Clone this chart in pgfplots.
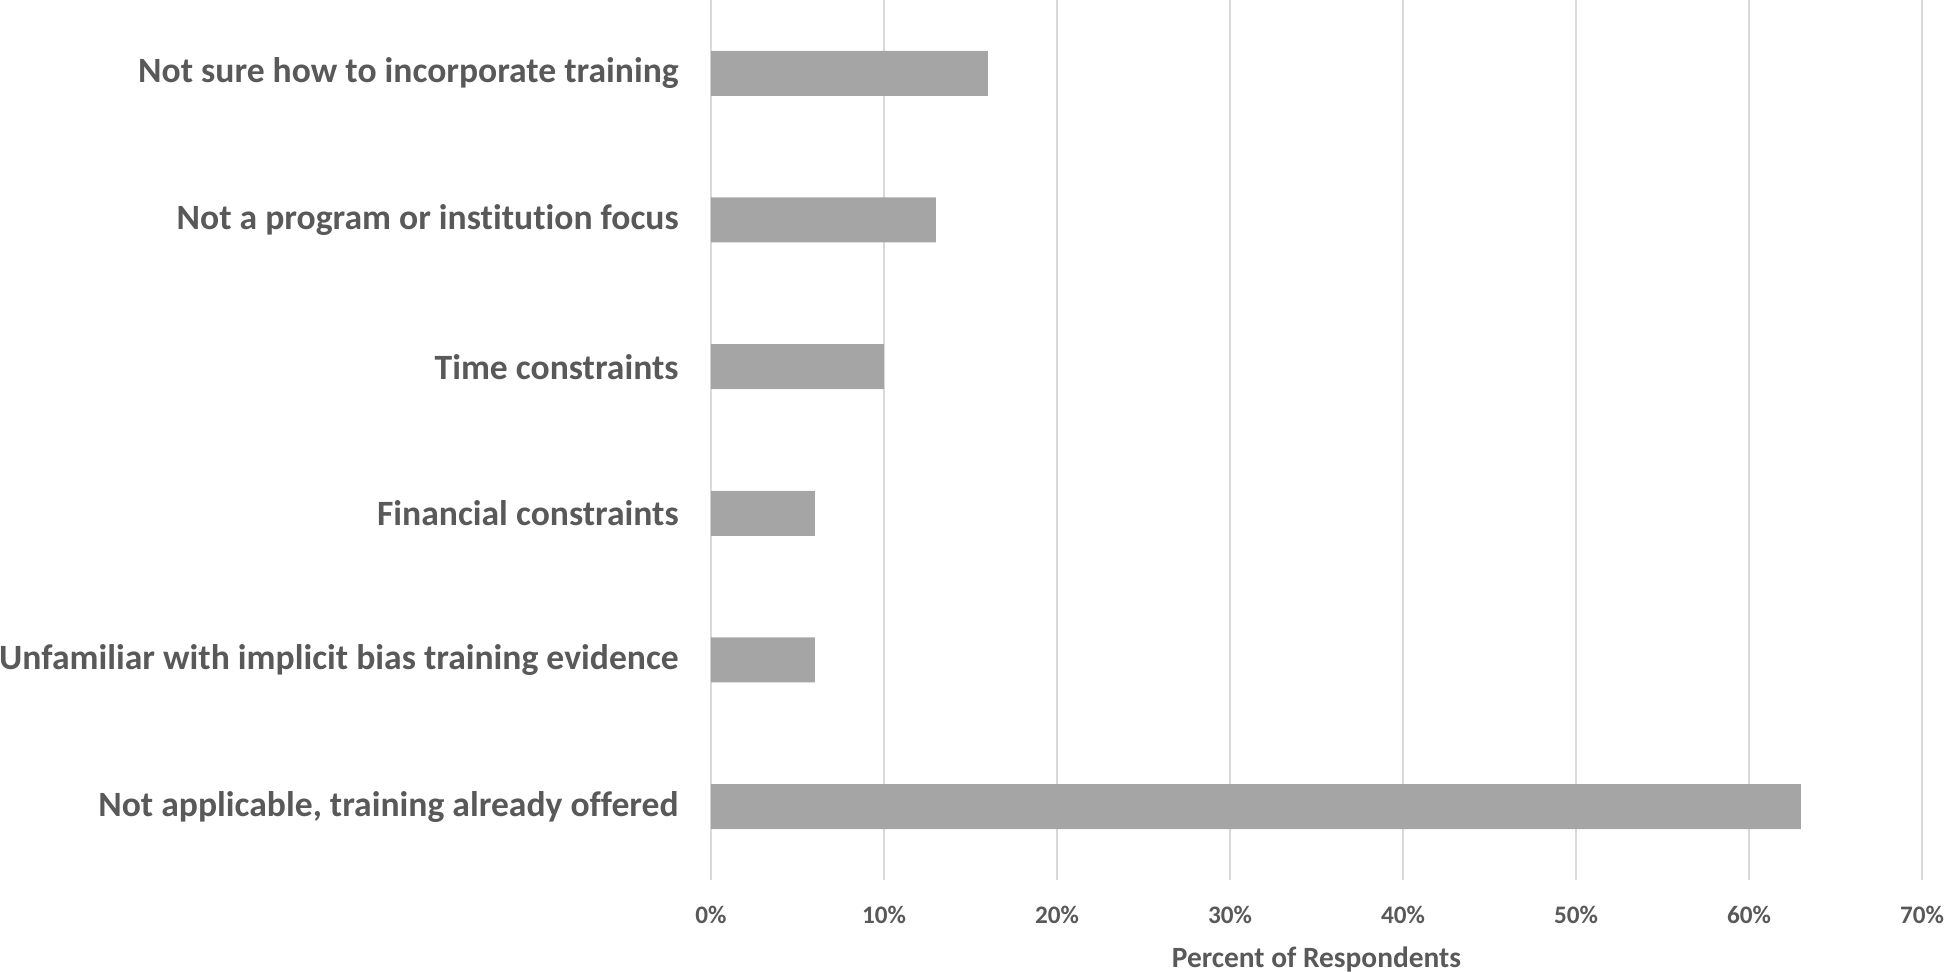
\documentclass[border=0pt]{standalone}
\usepackage{pgfplots}
\pgfplotsset{compat=1.18}
\usepackage{fontspec}
\setmainfont{Carlito}[Ligatures={NoCommon}]
\definecolor{barc}{HTML}{A5A5A5}
\definecolor{txt}{HTML}{595959}
\definecolor{gridc}{HTML}{D9D9D9}
\begin{document}
\begin{tikzpicture}
\begin{axis}[
  at={(0,0)}, anchor=south west,
  scale only axis,
  width=605.5pt, height=440pt,
  xbar, bar width=22.5pt,
  xmin=0, xmax=70, ymin=-0.5, ymax=5.5,
  xtick={0,10,20,30,40,50,60,70},
  xticklabels={0\%,10\%,20\%,30\%,40\%,50\%,60\%,70\%},
  ytick={0,1,2,3,4,5},
  yticklabels={{Not applicable, training already offered},Unfamiliar with implicit bias training evidence,Financial constraints,Time constraints,Not a program or institution focus,Not sure how to incorporate training},
  major tick length=0pt,
  axis line style={draw=none},
  xmajorgrids, grid style={gridc, line width=0.75pt},
  yticklabel style={anchor=east, inner sep=0pt, xshift=-16pt, font=\fontsize{17.8}{19}\selectfont\bfseries, text=txt},
  xticklabel style={anchor=center, inner sep=0pt, yshift=-17.5pt, font=\fontsize{12.6}{14}\selectfont\bfseries, text=txt},
  xlabel={Percent of Respondents},
  xlabel style={at={(axis description cs:0.5,0)}, anchor=center, inner sep=0pt, yshift=-39.5pt, font=\fontsize{14.7}{16}\selectfont\bfseries, text=txt},
]
\addplot[fill=barc, draw=none] coordinates {(63,0) (6,1) (6,2) (10,3) (13,4) (16,5)};
\end{axis}
\pgfresetboundingbox
\path[use as bounding box] (-355.5pt,-46pt) rectangle (620.5pt,440pt);
\end{tikzpicture}
\end{document}
